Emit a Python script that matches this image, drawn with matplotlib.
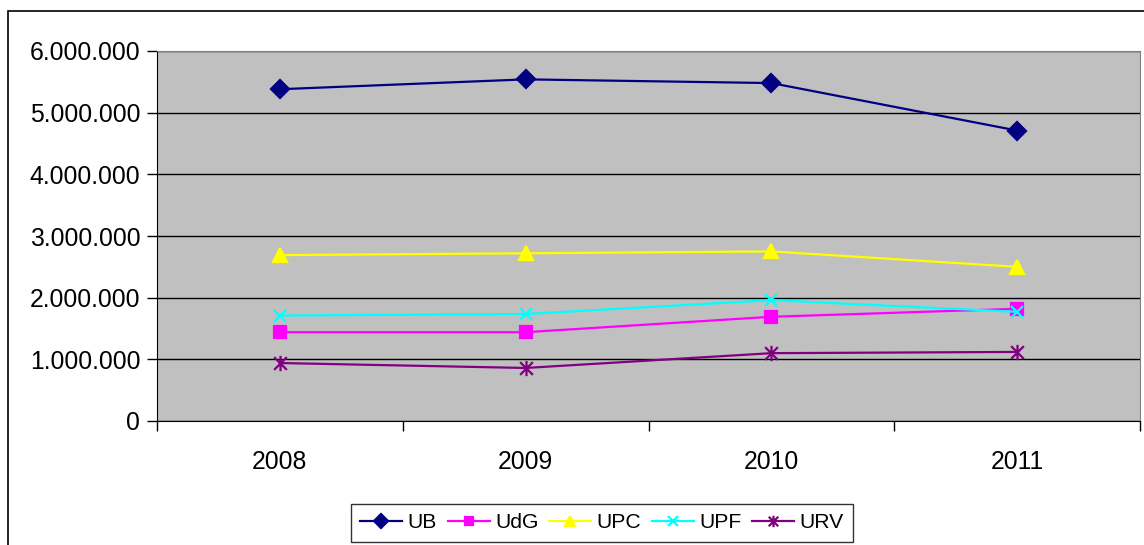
import numpy as np
import matplotlib.pyplot as plt
from matplotlib.path import Path
from matplotlib.patches import Rectangle
from matplotlib.ticker import FuncFormatter, FixedLocator

plt.rcParams['font.family'] = ['Liberation Sans', 'DejaVu Sans']

years = ['2008', '2009', '2010', '2011']
ub = [5380000, 5540000, 5480000, 4710000]
udg = [1440000, 1440000, 1690000, 1820000]
upc = [2690000, 2720000, 2750000, 2500000]
upf = [1710000, 1735000, 1960000, 1770000]
urv = [940000, 860000, 1100000, 1120000]

# asterisk marker like the Excel one: x plus vertical bar
star = Path([(-1, -1), (1, 1), (-1, 1), (1, -1), (0, -1.2), (0, 1.2)],
            [Path.MOVETO, Path.LINETO, Path.MOVETO, Path.LINETO, Path.MOVETO, Path.LINETO])

series = [
    ('UB', ub, '#000080', 'D', 9),
    ('UdG', udg, '#FF00FF', 's', 8),
    ('UPC', upc, '#FFFF00', '^', 10),
    ('UPF', upf, '#00FFFF', 'x', 9),
    ('URV', urv, '#800080', star, 11),
]

fig = plt.figure(figsize=(11.44, 5.45), dpi=100)
ax = fig.add_axes([157 / 1144, 1 - 421 / 545, (1140 - 157) / 1144, (421 - 51) / 545])
ax.set_facecolor('#C0C0C0')

x = np.arange(len(years))
for name, vals, col, mk, ms in series:
    ax.plot(x, vals, color=col, lw=1.6, marker=mk, ms=ms, mfc=col, mec=col,
            mew=1.6, label=name, zorder=3)

ax.set_xlim(-0.5, len(years) - 0.5)
ax.set_ylim(0, 6000000)
ax.set_yticks(np.arange(0, 6000001, 1000000))
ax.yaxis.set_major_formatter(FuncFormatter(lambda v, p: f"{int(v):,}".replace(',', '.')))
ax.yaxis.grid(True, color='#000000', lw=1.0)
ax.set_axisbelow(True)

ax.set_xticks(x)
ax.set_xticklabels(years)
ax.xaxis.set_minor_locator(FixedLocator(np.arange(-0.5, len(years), 1)))
ax.tick_params(axis='x', which='major', length=0, pad=21, labelsize=17.8)
ax.tick_params(axis='x', which='minor', length=7, width=1, direction='out')
ax.tick_params(axis='y', length=7, width=1, direction='out', pad=5, labelsize=17.8)

for s in ['top', 'right']:
    ax.spines[s].set_color('#808080')
for s in ['left', 'bottom']:
    ax.spines[s].set_color('#000000')

leg = fig.legend(loc='center', bbox_to_anchor=(602 / 1144, 1 - 523 / 545), ncol=5,
                 fontsize=15.2, frameon=True, fancybox=False, edgecolor='#000000',
                 handlelength=2.0, handletextpad=0.25, columnspacing=0.5,
                 borderpad=0.45, markerscale=0.75)
leg.get_frame().set_linewidth(1.0)

fig.patches.append(Rectangle((8 / 1144, -0.1), 1.2, 1 - 11 / 545 + 0.1,
                             transform=fig.transFigure, fill=False,
                             edgecolor='#000000', lw=1.2))

fig.savefig('out.png', dpi=100)
